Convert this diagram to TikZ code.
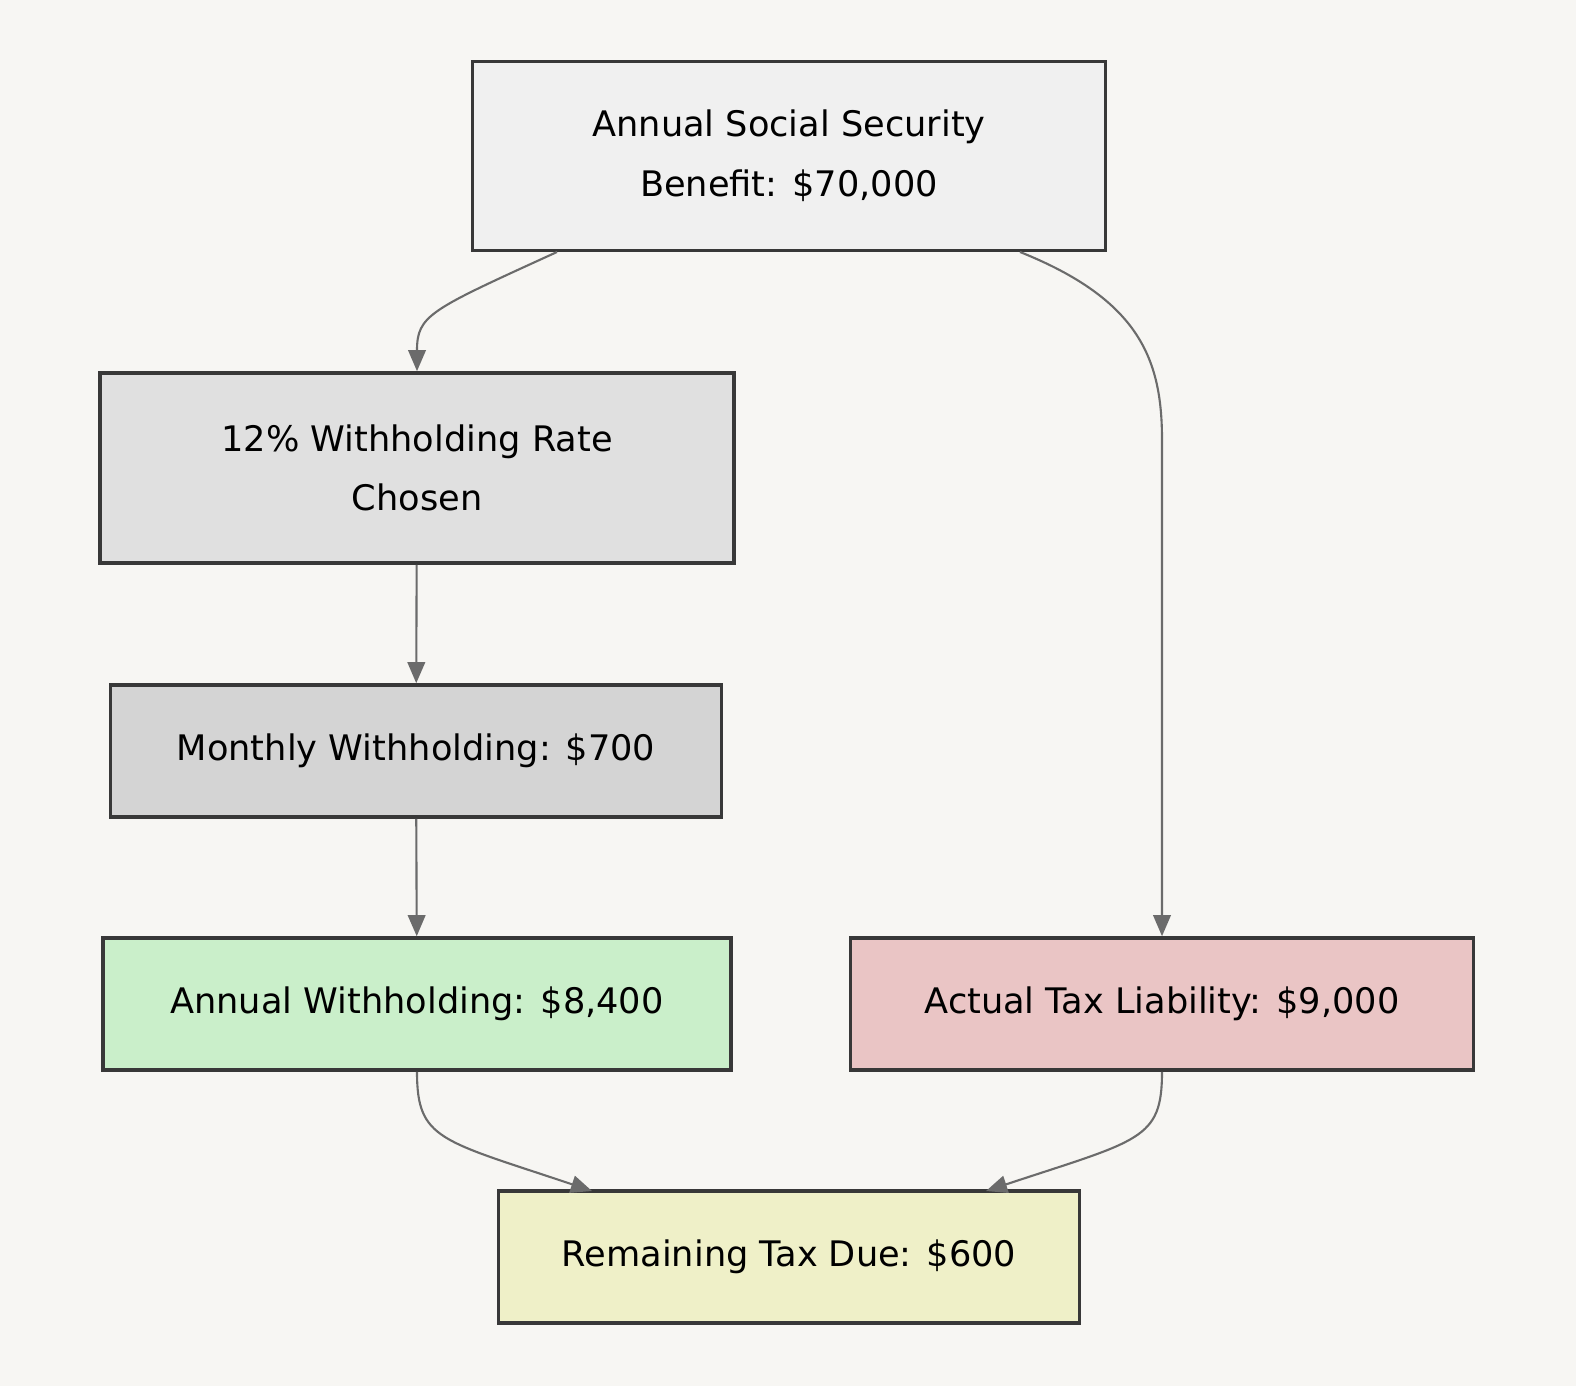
\documentclass[tikz,border=0pt]{standalone}
\usepackage{fontspec}
\setmainfont{DejaVu Sans}
\usetikzlibrary{arrows.meta}
\definecolor{bg}{HTML}{F7F6F3}
\begin{document}
\begin{tikzpicture}[x=0.01cm,y=-0.01cm,
 box/.style={draw=black!78,line width=1pt,minimum height=1.32cm,align=center,font=\fontsize{10}{17}\selectfont,inner sep=0pt},
 edge/.style={draw=black!58,line width=0.6pt,-{Triangle[length=6pt,width=5pt]}}]
\fill[bg] (0,0) rectangle (1576,1386);
\useasboundingbox (0,0) rectangle (1576,1386);
\node[box,fill=black!6,minimum width=6.33cm,minimum height=1.89cm] (a) at (789,156) {Annual Social Security\\Benefit: \$70,000};
\node[box,fill=black!12,minimum width=6.34cm,minimum height=1.9cm] (b) at (417,468) {12\% Withholding Rate\\Chosen};
\node[box,fill=black!17,minimum width=6.11cm] (c) at (416,751) {Monthly Withholding: \$700};
\node[box,fill={rgb,255:red,202;green,239;blue,202},minimum width=6.28cm] (d) at (417,1004) {Annual Withholding: \$8,400};
\node[box,fill={rgb,255:red,234;green,197;blue,197},minimum width=6.23cm] (e) at (1162,1004) {Actual Tax Liability: \$9,000};
\node[box,fill={rgb,255:red,239;green,240;blue,200},minimum width=5.81cm] (f) at (789,1257) {Remaining Tax Due: \$600};
\draw[edge] (557,252) .. controls (430,310) and (417,315) .. (b.north);
\draw[edge] (1020,252) .. controls (1140,300) and (1162,360) .. (1162,440) -- (e.north);
\draw[edge] (b) -- (c);
\draw[edge] (c) -- (d);
\draw[edge] (d.south) .. controls (417,1140) and (440,1140) .. (592,1191);
\draw[edge] (e.south) .. controls (1162,1140) and (1140,1140) .. (986,1191);
\end{tikzpicture}
\end{document}
